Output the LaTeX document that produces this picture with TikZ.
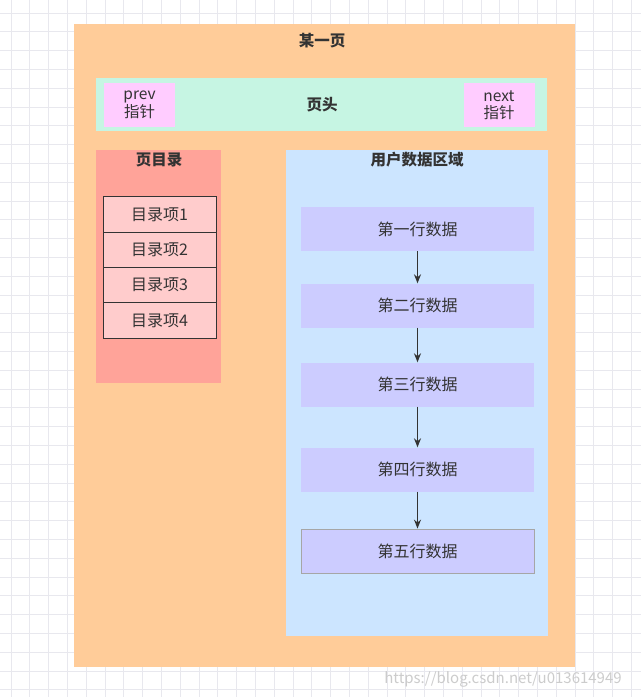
\documentclass[tikz,border=0pt]{standalone}
\usepackage{fontspec}
\setmainfont{Noto Sans CJK SC}
\usetikzlibrary{arrows.meta}
\definecolor{pagefill}{HTML}{FFCC99}
\definecolor{headfill}{HTML}{C6F5E3}
\definecolor{ptrfill}{HTML}{FFCCFF}
\definecolor{dirfill}{HTML}{FFA399}
\definecolor{itemfill}{HTML}{FFCCCC}
\definecolor{userfill}{HTML}{CCE5FF}
\definecolor{rowfill}{HTML}{CCCCFF}
\definecolor{inktext}{HTML}{333333}
\definecolor{gridline}{HTML}{E8E8EE}
\tikzset{
  area/.style={fill=#1, draw=none, inner sep=0pt, anchor=north west},
  title/.style={font=\fontsize{15.5}{17}\selectfont\bfseries, text=inktext},
  label/.style={font=\fontsize{16}{18}\selectfont, text=inktext, align=center},
  dirbox/.style={fill=itemfill, draw=inktext, line width=1pt, minimum width=113pt, minimum height=35.3pt, inner sep=0pt, label},
  rowbox/.style={fill=rowfill, draw=none, minimum width=233pt, minimum height=44pt, inner sep=0pt, label},
  ptrbox/.style={fill=ptrfill, draw=none, minimum width=71pt, minimum height=44pt, inner sep=0pt, label, font=\fontsize{15.5}{16.5}\selectfont},
  link/.style={-{Stealth[length=9pt,width=7pt]}, line width=1.3pt, draw=inktext}
}
\begin{document}
\begin{tikzpicture}[x=1pt,y=-1pt]
  \useasboundingbox (0,0) rectangle (641,697);
  \fill[white] (0,0) rectangle (641,697);

  % Drawing editor grid
  \foreach \gx in {11,29.8,...,641} \draw[gridline, line width=0.8pt] (\gx,0) -- (\gx,697);
  \foreach \gy in {13,31.8,...,697} \draw[gridline, line width=0.8pt] (0,\gy) -- (641,\gy);

  % Drawing page
  \fill[pagefill] (74,24) rectangle (575,667);
  \node[title] (page) at (322,41) {某一页};

  % Drawing page header
  \fill[headfill] (96,78) rectangle (547,131);
  \node[title] (head) at (322,105) {页头};
  \node[ptrbox] (prev) at (139.5,105) {prev\\指针};
  \node[ptrbox] (next) at (499,105) {next\\指针};

  % Drawing page directory
  \fill[dirfill] (96,150) rectangle (221,383);
  \node[title] (dir) at (159,160) {页目录};
  \foreach \i in {1,...,4}
    \node[dirbox] (item\i) at (159.5,{214.5+35.3*(\i-1)}) {目录项\i};

  % Drawing user records
  \fill[userfill] (286,150) rectangle (548,636);
  \node[title] (user) at (417,160) {用户数据区域};
  \node[rowbox] (row1) at (417.5,229) {第一行数据};
  \node[rowbox] (row2) at (417.5,305.5) {第二行数据};
  \node[rowbox] (row3) at (417.5,384.5) {第三行数据};
  \node[rowbox] (row4) at (417.5,469.5) {第四行数据};
  \node[rowbox, draw=gray!70, line width=0.8pt] (row5) at (417.5,551) {第五行数据};

  % Drawing links between records
  \draw[link] (row1) -- (row2);
  \draw[link] (row2) -- (row3);
  \draw[link] (row3) -- (row4);
  \draw[link] (row4) -- (row5);

  % Marking source
  \node[font=\fontsize{15}{16}\selectfont, text=gray!40] (mark) at (503,679) {https://blog.csdn.net/u013614949};
\end{tikzpicture}
\end{document}
